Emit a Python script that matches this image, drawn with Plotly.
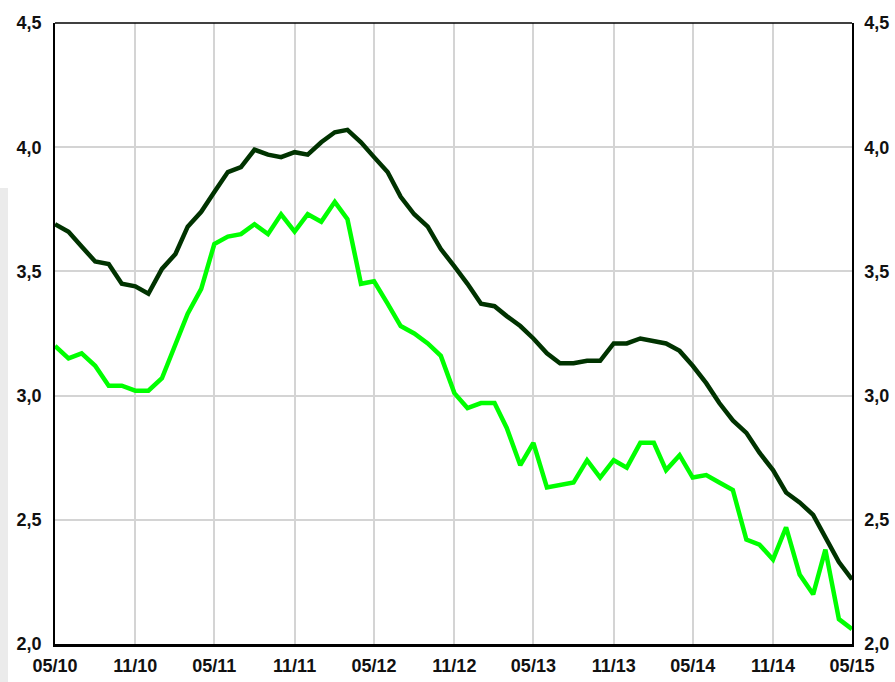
import plotly.graph_objects as go
import pandas as pd

months = pd.date_range("2010-05-01", "2015-05-01", freq="MS")

dark_series = [3.69, 3.66, 3.60, 3.54, 3.53, 3.45, 3.44, 3.41, 3.51, 3.57,
               3.68, 3.74, 3.82, 3.90, 3.92, 3.99, 3.97, 3.96, 3.98, 3.97,
               4.02, 4.06, 4.07, 4.02, 3.96, 3.90, 3.80, 3.73, 3.68, 3.59,
               3.52, 3.45, 3.37, 3.36, 3.32, 3.28, 3.23, 3.17, 3.13, 3.13,
               3.14, 3.14, 3.21, 3.21, 3.23, 3.22, 3.21, 3.18, 3.12, 3.05,
               2.97, 2.90, 2.85, 2.77, 2.70, 2.61, 2.57, 2.52, 2.43, 2.33,
               2.26]

green_series = [3.20, 3.15, 3.17, 3.12, 3.04, 3.04, 3.02, 3.02, 3.07, 3.21,
                3.33, 3.43, 3.61, 3.64, 3.65, 3.69, 3.65, 3.73, 3.66, 3.73,
                3.70, 3.78, 3.71, 3.45, 3.46, 3.37, 3.28, 3.25, 3.21, 3.16,
                3.01, 2.95, 2.97, 2.97, 2.87, 2.72, 2.81, 2.63, 2.64, 2.65,
                2.74, 2.67, 2.74, 2.71, 2.81, 2.81, 2.70, 2.76, 2.67, 2.68,
                2.65, 2.62, 2.42, 2.40, 2.34, 2.47, 2.28, 2.20, 2.38, 2.10,
                2.06]

y_ticks = [2.0, 2.5, 3.0, 3.5, 4.0, 4.5]
y_tick_labels = ["2,0", "2,5", "3,0", "3,5", "4,0", "4,5"]

FONT = "Liberation Sans Narrow, Arial Narrow, Liberation Sans, Arial, sans-serif"

fig = go.Figure()
fig.add_trace(go.Scatter(x=months, y=dark_series, mode="lines",
                         line=dict(color="#003300", width=4.5), yaxis="y"))
fig.add_trace(go.Scatter(x=months, y=green_series, mode="lines",
                         line=dict(color="#00ff00", width=4.5), yaxis="y2"))

fig.update_layout(
    width=895, height=682,
    margin=dict(l=55, r=43, t=23, b=38, autoexpand=False),
    paper_bgcolor="white", plot_bgcolor="white",
    showlegend=False,
    font=dict(family=FONT, size=18, color="#111111"),
    xaxis=dict(
        type="date", automargin=False,
        range=[months[0], months[-1]],
        tickformat="%m/%y", dtick="M6", tick0=months[0],
        showgrid=True, gridcolor="#d4d4d4", gridwidth=1.5,
        showline=True, linecolor="black", linewidth=2.5, mirror=False,
        ticks="", tickfont=dict(family=FONT, size=18, weight="bold"),
        ticklabelstandoff=4,
    ),
    yaxis=dict(
        range=[2.0, 4.5], tickvals=y_ticks, ticktext=y_tick_labels,
        automargin=False,
        showgrid=True, gridcolor="#d4d4d4", gridwidth=1.5,
        showline=True, linecolor="black", linewidth=1.5,
        ticks="", tickfont=dict(family=FONT, size=18, weight="bold"),
        ticklabelstandoff=8, zeroline=False,
    ),
    yaxis2=dict(
        range=[2.0, 4.5], tickvals=y_ticks, ticktext=y_tick_labels,
        automargin=False,
        overlaying="y", side="right", showgrid=False,
        showline=True, linecolor="black", linewidth=1.5,
        ticks="", tickfont=dict(family=FONT, size=18, weight="bold"),
        ticklabelstandoff=7, zeroline=False,
    ),
    shapes=[
        dict(type="rect", xref="paper", yref="paper", layer="below",
             x0=-55/797, x1=-47/797, y0=-38/621, y1=(644-188)/621,
             fillcolor="#ebebeb", line=dict(width=0)),
        dict(type="line", xref="paper", yref="paper",
             x0=0, x1=1, y0=1, y1=1, line=dict(color="black", width=1.5)),
    ],
)

fig.write_html("out.html",
               config={"displayModeBar": False},
               post_script="document.body.style.margin='0';document.body.style.overflow='hidden';")
